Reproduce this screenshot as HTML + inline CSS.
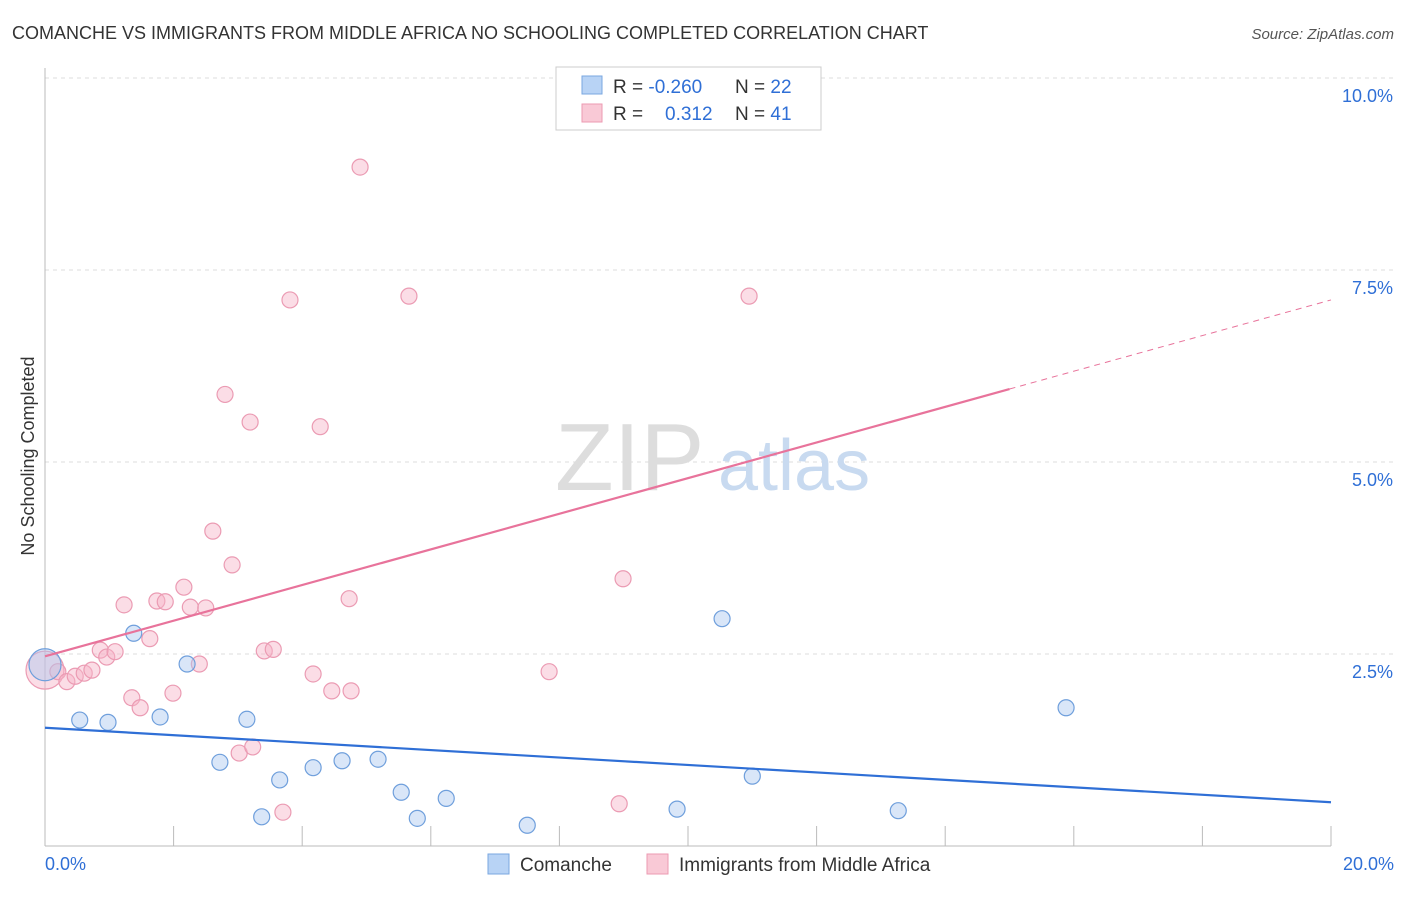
<!DOCTYPE html>
<html><head><meta charset="utf-8"><style>
body{margin:0;background:#fff;font-family:"Liberation Sans",sans-serif}
svg text{font-family:"Liberation Sans",sans-serif}
</style></head><body>
<svg width="1406" height="892" viewBox="0 0 1406 892">
<text x="12" y="39" font-size="18" fill="#333">COMANCHE VS IMMIGRANTS FROM MIDDLE AFRICA NO SCHOOLING COMPLETED CORRELATION CHART</text>
<text x="1394" y="39" font-size="15" fill="#555" font-style="italic" text-anchor="end">Source: ZipAtlas.com</text>
<g id="grid"></g>
<g id="axes"></g>
<text x="555" y="490" font-size="96" fill="#ddd" font-family="Liberation Serif">ZIP</text>
<text x="718" y="490" font-size="72" fill="#c8daf0">atlas</text>
<g id="marks"></g>
<text transform="translate(34,456) rotate(-90)" font-size="18" fill="#333" text-anchor="middle">No Schooling Completed</text>
<g>
<rect x="556" y="67" width="265" height="63" fill="#fff" stroke="#ccc"/>
<rect x="582" y="76" width="20" height="18" fill="#b8d3f5" stroke="#7aa7e0"/>
<rect x="582" y="104" width="20" height="18" fill="#f9c9d6" stroke="#ec9ab2"/>
<text x="613" y="93" font-size="19" fill="#333">R = <tspan fill="#2f6fd6">-0.260</tspan></text>
<text x="735" y="93" font-size="19" fill="#333">N = <tspan fill="#2f6fd6">22</tspan></text>
<text x="613" y="120" font-size="19" fill="#333">R = <tspan fill="#2f6fd6" x="665">0.312</tspan></text>
<text x="735" y="120" font-size="19" fill="#333">N = <tspan fill="#2f6fd6">41</tspan></text>
</g>
<g>
<rect x="488" y="854" width="21" height="20" fill="#b8d3f5" stroke="#7aa7e0"/>
<text x="520" y="871" font-size="19" fill="#333">Comanche</text>
<rect x="647" y="854" width="21" height="20" fill="#f9c9d6" stroke="#ec9ab2"/>
<text x="679" y="871" font-size="19" fill="#333">Immigrants from Middle Africa</text>
</g>
</svg>
<script>
const yTicks=[2.5,5,7.5,10];
const yTickLabels=["2.5%","5.0%","7.5%","10.0%"];
const xTickCount=[0,2,4,6,8,10,12,14,16,18,20];
const blueX=[0,0.54,0.98,1.38,1.79,2.21,2.72,3.14,3.37,3.65,4.17,4.62,5.18,5.54,5.79,6.24,7.50,9.83,10.53,11.00,13.27,15.88];
const blueY=[2.36,1.64,1.61,2.77,1.68,2.37,1.09,1.65,0.38,0.86,1.02,1.11,1.13,0.70,0.36,0.62,0.27,0.48,2.96,0.91,0.46,1.80];
const pinkX=[0,0.20,0.34,0.47,0.61,0.73,0.86,0.96,1.09,1.23,1.35,1.48,1.63,1.74,1.87,1.99,2.16,2.26,2.40,2.50,2.61,2.80,2.91,3.02,3.23,3.41,3.55,3.81,4.17,4.28,4.46,4.73,4.76,4.90,5.66,7.84,8.93,8.99,10.95,3.19,3.70];
const pinkY=[2.29,2.27,2.14,2.21,2.25,2.29,2.55,2.46,2.53,3.14,1.93,1.80,2.70,3.19,3.18,1.99,3.37,3.11,2.37,3.10,4.10,5.88,3.66,1.21,1.29,2.54,2.56,7.11,2.24,5.46,2.02,3.22,2.02,8.84,7.16,2.27,0.55,3.48,7.16,5.52,0.44];
const blueTrend=[1.54,0.57];
const pinkTrend=[2.47,7.11];
const NS="http://www.w3.org/2000/svg";
const X=v=>45+v/20*1286, Y=v=>846-v/2.5*192;
function mk(t,a,p){const e=document.createElementNS(NS,t);for(const k in a)e.setAttribute(k,a[k]);p.appendChild(e);return e;}
const grid=document.getElementById('grid'),axes=document.getElementById('axes'),marks=document.getElementById('marks');
yTicks.forEach((v,i)=>{
 const l=mk('line',{x1:45,x2:1394,y1:Y(v),y2:Y(v),stroke:'#ddd','stroke-dasharray':'4,4'},grid);
 
 
 const t=mk('text',{x:1393,y:Y(v)+24,'font-size':18,fill:'#2f6fd6','text-anchor':'end'},axes);
 t.textContent=yTickLabels[i];
 
 
});
const ax=mk('line',{x1:45,x2:45,y1:68,y2:846,stroke:'#bbb'},axes);


const bx=mk('line',{x1:45,x2:1331,y1:846,y2:846,stroke:'#bbb'},axes);


xTickCount.forEach(v=>{const l=mk('line',{x1:X(v),x2:X(v),y1:826,y2:846,stroke:'#bbb'},axes);
 
 });
[["0.0%",45,'start'],["20.0%",1394,'end']].forEach(a=>{const t=mk('text',{x:a[1],y:870,'font-size':18,fill:'#2f6fd6','text-anchor':a[2]},axes);t.textContent=a[0];
 
 });
function dot(x,y,fill,stroke,r,name){const c=mk('circle',{cx:X(x),cy:Y(y),r:r,fill:fill,stroke:stroke,'stroke-width':1.2},marks);
 
 }
pinkX.forEach((x,i)=>dot(x,pinkY[i],'rgba(246,180,200,0.45)','#eb9bb3',i==0?19:8,'point-immigrants'));
blueX.forEach((x,i)=>dot(x,blueY[i],'rgba(170,200,240,0.45)','#6f9fdc',i==0?16:8,'point-comanche'));
const bl=mk('line',{x1:X(0),y1:Y(blueTrend[0]),x2:X(20),y2:Y(blueTrend[1]),stroke:'#2f6fd6','stroke-width':2.2},marks);


const pm=pinkTrend[0]+(pinkTrend[1]-pinkTrend[0])*0.75;
const pl=mk('line',{x1:X(0),y1:Y(pinkTrend[0]),x2:X(15),y2:Y(pm),stroke:'#e8739b','stroke-width':2.2},marks);


const pd=mk('line',{x1:X(15),y1:Y(pm),x2:X(20),y2:Y(pinkTrend[1]),stroke:'#e8739b','stroke-width':1,'stroke-dasharray':'6,5'},marks);


</script>
</body></html>
